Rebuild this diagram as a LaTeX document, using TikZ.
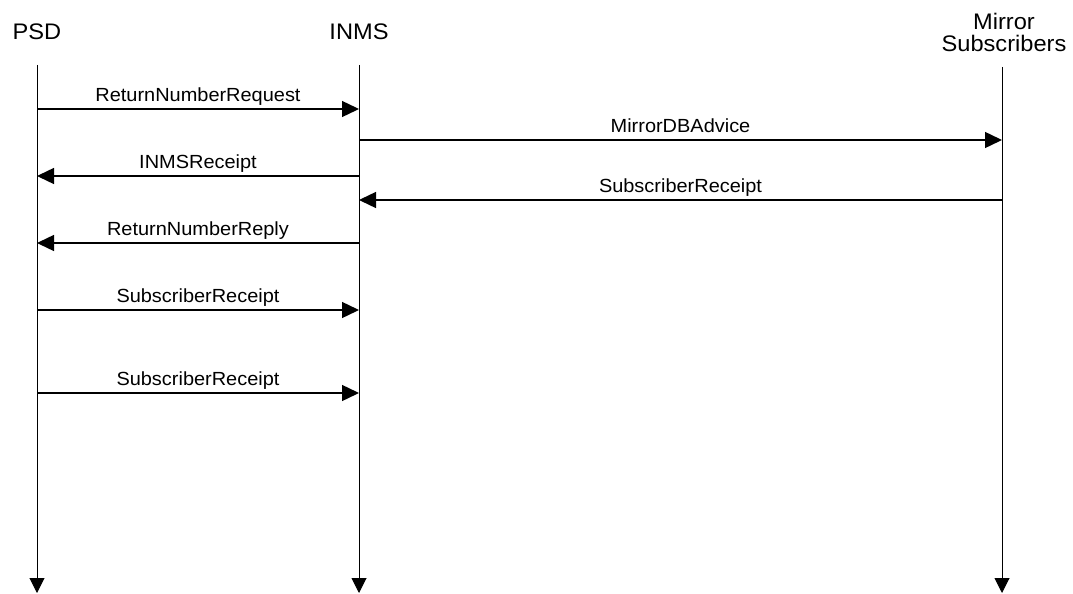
\documentclass[tikz,border=0pt]{standalone}
\usepackage{fontspec}
\setmainfont{Liberation Sans}
\usetikzlibrary{arrows.meta}
\begin{document}
\begin{tikzpicture}[x=1pt,y=-1pt,
  hdr/.style={font=\fontsize{22.5}{24}\selectfont, inner sep=0pt, anchor=base, xscale=1.05, transform shape},
  lbl/.style={font=\fontsize{19}{20}\selectfont, inner sep=0pt, anchor=base, xscale=1.05, transform shape},
  life/.style={line width=1pt, -{Triangle[length=15pt,width=15pt]}},
  msg/.style={line width=1.4pt, -{Triangle[length=17pt,width=16pt]}}]
\useasboundingbox (0,0) rectangle (1073,594);
% headers
\node[hdr] (psd) at (37,40) {PSD};
\node[hdr] (inms) at (359,40) {INMS};
\node[hdr] (mir) at (1004,30) {Mirror};
\node[hdr] (sub) at (1004,52) {Subscribers};
% lifeline ends
\coordinate (pT) at (37,65);  \coordinate (pB) at (37,593);
\coordinate (iT) at (359,65); \coordinate (iB) at (359,593);
\coordinate (mT) at (1002,67); \coordinate (mB) at (1002,593);
\draw[life] (pT) -- (pB);
\draw[life] (iT) -- (iB);
\draw[life] (mT) -- (mB);
% message points
\foreach \n/\y in {1/109,3/176,5/243,6/310,7/393}{
  \coordinate (p\n) at (37,\y); \coordinate (i\n) at (359,\y);}
\foreach \n/\y in {2/140,4/200}{
  \coordinate (i\n) at (359,\y); \coordinate (m\n) at (1002,\y);}
\draw[msg] (p1) -- (i1) node[lbl, midway, yshift=8pt] (l1) {ReturnNumberRequest};
\draw[msg] (i2) -- (m2) node[lbl, midway, yshift=8pt] (l2) {MirrorDBAdvice};
\draw[msg] (i3) -- (p3) node[lbl, midway, yshift=8pt] (l3) {INMSReceipt};
\draw[msg] (m4) -- (i4) node[lbl, midway, yshift=8pt] (l4) {SubscriberReceipt};
\draw[msg] (i5) -- (p5) node[lbl, midway, yshift=8pt] (l5) {ReturnNumberReply};
\draw[msg] (p6) -- (i6) node[lbl, midway, yshift=8pt] (l6) {SubscriberReceipt};
\draw[msg] (p7) -- (i7) node[lbl, midway, yshift=8pt] (l7) {SubscriberReceipt};
\end{tikzpicture}
\end{document}
